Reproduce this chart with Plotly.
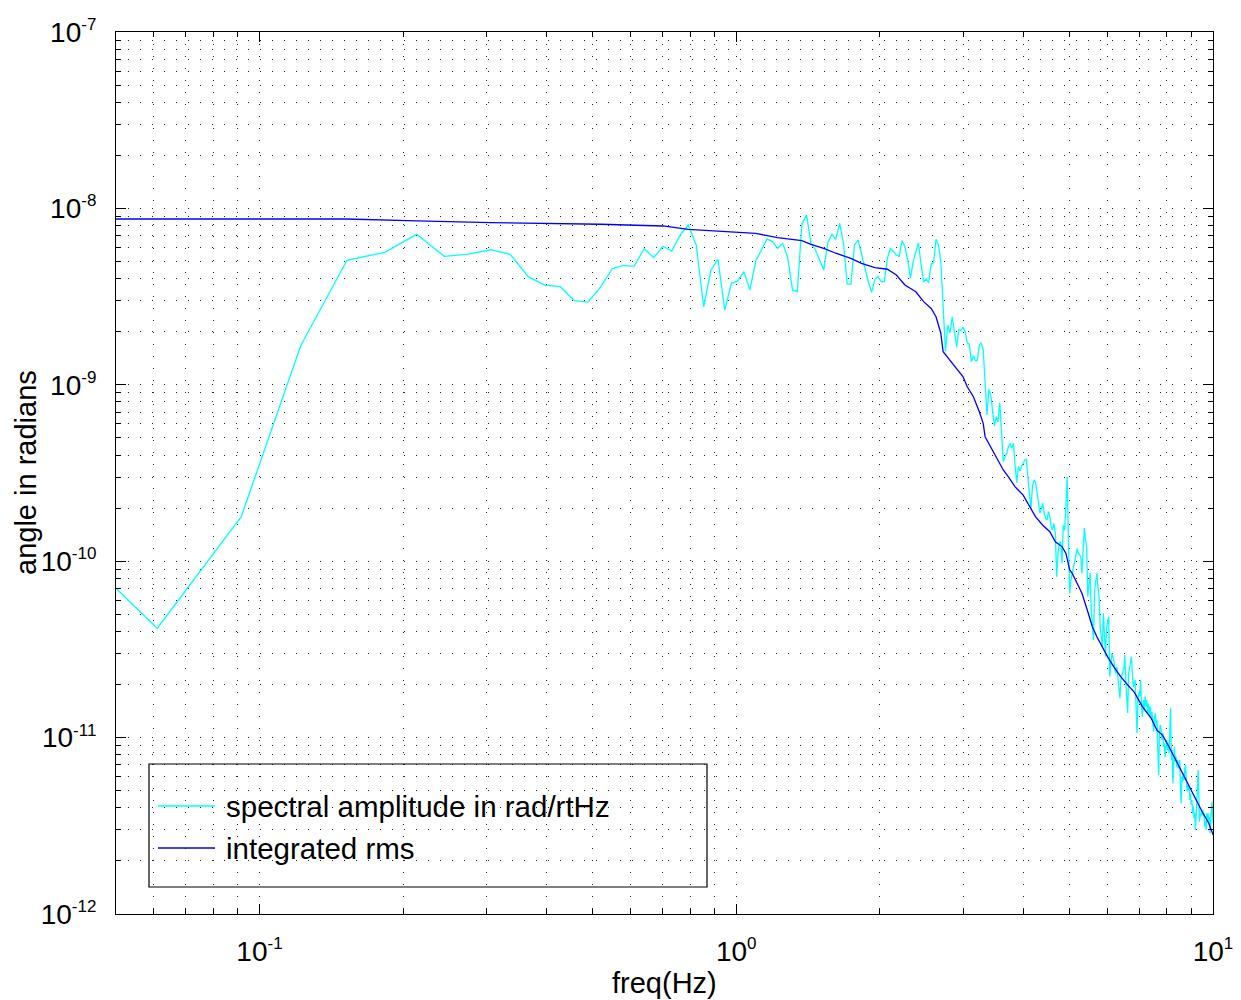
import math
import plotly.graph_objects as go

# frequency resolution of the spectrum (Hz per bin)
df = 1 / 32.768

# spectral amplitude in rad/rtHz, bins 1..328
spec_amp = [
    2.54e-10, 4.17e-11, 1.79e-10, 1.67e-9, 5.08e-9, 5.64e-9, 7.13e-9, 5.35e-9, 5.51e-9, 5.83e-9,
    5.49e-9, 4.10e-9, 3.67e-9, 3.60e-9, 3.00e-9, 2.94e-9, 3.57e-9, 4.55e-9, 4.75e-9, 4.69e-9,
    5.91e-9, 5.26e-9, 6.10e-9, 5.73e-9, 7.07e-9, 8.05e-9, 6.20e-9, 2.77e-9, 4.48e-9, 5.15e-9,
    2.65e-9, 3.76e-9, 3.88e-9, 4.38e-9, 3.45e-9, 5.03e-9, 5.81e-9, 6.71e-9, 6.48e-9, 5.94e-9,
    6.34e-9, 5.28e-9, 3.45e-9, 3.37e-9, 8.16e-9, 9.18e-9, 6.34e-9, 5.85e-9, 5.10e-9, 4.47e-9,
    6.39e-9, 7.13e-9, 6.68e-9, 8.23e-9, 6.34e-9, 3.73e-9, 3.71e-9, 6.20e-9, 6.62e-9, 5.44e-9,
    4.67e-9, 3.84e-9, 3.34e-9, 3.96e-9, 4.10e-9, 3.84e-9, 3.84e-9, 5.21e-9, 5.94e-9, 5.68e-9,
    5.44e-9, 5.37e-9, 6.56e-9, 6.07e-9, 5.10e-9, 4.01e-9, 4.99e-9, 5.68e-9, 6.39e-9, 4.78e-9,
    3.84e-9, 3.98e-9, 3.79e-9, 4.84e-9, 4.93e-9, 6.68e-9, 6.20e-9, 5.00e-9, 2.60e-9, 1.55e-9,
    2.18e-9, 1.97e-9, 2.43e-9, 1.96e-9, 1.64e-9, 2.06e-9, 2.03e-9, 2.12e-9, 2.00e-9, 1.73e-9,
    1.70e-9, 1.35e-9, 1.46e-9, 1.37e-9, 1.38e-9, 1.68e-9, 1.73e-9, 1.58e-9, 1.02e-9, 6.74e-10,
    9.43e-10, 8.75e-10, 7.20e-10, 5.84e-10, 6.60e-10, 6.18e-10, 7.92e-10, 5.08e-10, 3.67e-10, 3.91e-10,
    4.09e-10, 4.46e-10, 4.66e-10, 4.36e-10, 4.66e-10, 3.44e-10, 2.79e-10, 3.44e-10, 3.26e-10, 3.44e-10,
    3.62e-10, 3.75e-10, 3.78e-10, 3.01e-10, 2.42e-10, 1.97e-10, 2.65e-10, 2.89e-10, 2.82e-10, 2.53e-10,
    2.18e-10, 1.87e-10, 2.04e-10, 2.13e-10, 1.87e-10, 1.75e-10, 1.71e-10, 1.91e-10, 1.79e-10, 1.57e-10,
    1.50e-10, 1.64e-10, 1.44e-10, 8.17e-11, 1.11e-10, 1.26e-10, 1.29e-10, 9.72e-11, 1.60e-10, 1.50e-10,
    2.04e-10, 3.01e-10, 1.32e-10, 6.57e-11, 7.82e-11, 8.53e-11, 9.31e-11, 1.02e-10, 1.06e-10, 1.18e-10,
    1.11e-10, 1.08e-10, 1.06e-10, 8.53e-11, 1.16e-10, 1.54e-10, 1.32e-10, 1.21e-10, 6.29e-11, 7.82e-11,
    8.53e-11, 5.29e-11, 4.07e-11, 3.57e-11, 6.87e-11, 7.49e-11, 8.53e-11, 7.17e-11, 6.29e-11, 4.25e-11,
    3.73e-11, 3.28e-11, 5.06e-11, 3.90e-11, 2.88e-11, 4.25e-11, 4.64e-11, 4.85e-11, 2.22e-11, 2.75e-11,
    3.00e-11, 2.88e-11, 2.75e-11, 2.42e-11, 2.31e-11, 2.52e-11, 2.12e-11, 1.94e-11, 1.67e-11, 2.12e-11,
    2.31e-11, 2.36e-11, 2.42e-11, 2.94e-11, 2.12e-11, 1.78e-11, 1.38e-11, 2.31e-11, 2.52e-11, 2.64e-11,
    2.88e-11, 2.31e-11, 1.94e-11, 2.03e-11, 2.12e-11, 1.50e-11, 1.06e-11, 1.63e-11, 1.78e-11, 1.71e-11,
    2.12e-11, 1.50e-11, 1.31e-11, 1.63e-11, 1.43e-11, 1.71e-11, 1.50e-11, 1.63e-11, 1.37e-11, 1.56e-11,
    1.34e-11, 1.50e-11, 1.31e-11, 1.40e-11, 1.15e-11, 1.08e-11, 1.31e-11, 1.37e-11, 1.18e-11, 1.26e-11,
    8.51e-12, 6.14e-12, 1.06e-11, 1.18e-11, 1.10e-11, 9.69e-12, 1.06e-11, 8.88e-12, 9.28e-12, 7.80e-12,
    8.88e-12, 9.69e-12, 8.51e-12, 9.28e-12, 8.14e-12, 1.15e-11, 1.47e-11, 7.46e-12, 8.51e-12, 5.50e-12,
    7.80e-12, 8.88e-12, 7.30e-12, 7.80e-12, 6.84e-12, 7.46e-12, 6.69e-12, 7.14e-12, 7.46e-12, 5.27e-12,
    4.24e-12, 6.00e-12, 5.63e-12, 6.27e-12, 5.75e-12, 6.69e-12, 6.99e-12, 5.75e-12, 4.94e-12, 5.38e-12,
    5.04e-12, 5.27e-12, 4.43e-12, 4.83e-12, 4.15e-12, 4.43e-12, 3.72e-12, 4.06e-12, 3.49e-12, 3.72e-12,
    2.99e-12, 3.56e-12, 4.06e-12, 5.27e-12, 6.55e-12, 4.43e-12, 3.34e-12, 3.72e-12, 3.56e-12, 3.89e-12,
    3.64e-12, 3.89e-12, 3.56e-12, 3.72e-12, 3.13e-12, 3.34e-12, 2.99e-12, 3.72e-12, 3.41e-12, 3.72e-12,
    3.27e-12, 3.56e-12, 2.87e-12, 3.27e-12, 3.72e-12, 4.33e-12, 3.56e-12, 3.27e-12,
]
spec_freq = [df * (i + 1) for i in range(len(spec_amp))]

# integrated rms (rad), read at selected bins
rms_bin = [1, 5, 7, 10, 17, 23, 26, 32, 36, 40, 45, 47, 50, 53, 57, 60, 64, 68, 71, 74,
           78, 81, 84, 86, 88, 89, 92, 95, 98, 100, 103, 106, 108, 109, 113, 117, 119, 122, 126, 131,
           135, 139, 144, 149, 153, 158, 161, 164, 166, 170, 174, 179, 183, 187, 191, 197, 203, 210, 217, 224,
           233, 243, 250, 257, 265, 276, 287, 299, 311, 321, 328]
rms_val = [8.71e-9, 8.71e-9, 8.49e-9, 8.30e-9, 8.13e-9, 7.95e-9, 7.61e-9, 7.32e-9, 7.22e-9, 6.82e-9,
           6.56e-9, 6.26e-9, 5.94e-9, 5.57e-9, 5.21e-9, 4.88e-9, 4.61e-9, 4.52e-9, 4.19e-9, 3.68e-9,
           3.37e-9, 2.96e-9, 2.71e-9, 2.43e-9, 1.96e-9, 1.54e-9, 1.38e-9, 1.24e-9, 1.11e-9, 9.75e-10,
           8.56e-10, 7.04e-10, 6.05e-10, 5.08e-10, 4.27e-10, 3.59e-10, 3.29e-10, 3.01e-10, 2.64e-10, 2.37e-10,
           2.04e-10, 1.79e-10, 1.60e-10, 1.47e-10, 1.29e-10, 1.21e-10, 1.11e-10, 8.92e-11, 8.54e-11, 7.49e-11,
           6.58e-11, 5.17e-11, 4.25e-11, 3.73e-11, 3.35e-11, 2.87e-11, 2.52e-11, 2.21e-11, 1.99e-11, 1.81e-11,
           1.50e-11, 1.29e-11, 1.10e-11, 1.03e-11, 8.88e-12, 7.15e-12, 5.75e-12, 4.62e-12, 3.80e-12, 3.27e-12,
           2.80e-12]
rms_freq = [df * b for b in rms_bin]

# axis ticks
x_tickvals = [0.1, 1, 10]
x_exponents = ["-1", "0", "1"]
y_tickvals = [1e-12, 1e-11, 1e-10, 1e-9, 1e-8, 1e-7]
y_exponents = ["-12", "-11", "-10", "-9", "-8", "-7"]
x_minor = [m * 10 ** e for e in (-2, -1, 0) for m in range(2, 10)]
y_minor = [m * 10 ** e for e in range(-12, -7) for m in range(2, 10)]

def pow_label(e):
    return '10<sup><span style="font-size:17px">' + e + '</span></sup>'

x_ticktext = [pow_label(e) for e in x_exponents]
y_ticktext = [pow_label(e) for e in y_exponents]

legend_labels = ["spectral amplitude in rad/rtHz", "integrated rms"]
colors = ["#00FFFF", "#0000FF"]
x_title = "freq(Hz)"
y_title = "angle in radians"

FONT = "Liberation Sans, Arial, Helvetica, sans-serif"
DOT = "1px,11px"
GRIDCOL = "#222222"

fig = go.Figure()
fig.add_trace(go.Scatter(x=spec_freq, y=spec_amp, mode="lines", name=legend_labels[0],
                         line=dict(color=colors[0], width=1.3), showlegend=False))
fig.add_trace(go.Scatter(x=rms_freq, y=rms_val, mode="lines", name=legend_labels[1],
                         line=dict(color=colors[1], width=1.3), showlegend=False))

axis_common = dict(
    type="log", showline=True, linecolor="black", linewidth=1, mirror="allticks",
    ticks="inside", ticklen=10, tickcolor="black", tickwidth=1, automargin=False,
    showgrid=True, gridcolor=GRIDCOL, gridwidth=1, griddash=DOT, zeroline=False,
    tickfont=dict(family=FONT, size=28, color="black"),
)

fig.update_xaxes(
    **axis_common,
    range=[math.log10(0.05), 1],
    tickmode="array", tickvals=x_tickvals, ticktext=x_ticktext,
    ticklabelstandoff=12,
    minor=dict(tickmode="array", tickvals=x_minor, ticks="inside", ticklen=5,
               tickcolor="black", showgrid=True, gridcolor=GRIDCOL, gridwidth=1, griddash=DOT),
)
fig.update_yaxes(
    **axis_common,
    range=[-12, -7],
    tickmode="array", tickvals=y_tickvals, ticktext=y_ticktext,
    ticklabelstandoff=13,
    minor=dict(tickmode="array", tickvals=y_minor, ticks="inside", ticklen=5,
               tickcolor="black", showgrid=True, gridcolor=GRIDCOL, gridwidth=1, griddash=DOT),
)

# page body adds an 8px offset; plot area spans x 116..1213, y 32..914 on the page
OFF = 8
W_PLOT, H_PLOT = 1097.0, 882.0
def px(xp):
    return (xp - 116) / W_PLOT
def py(yp):
    return (914 - yp) / H_PLOT

shapes = [dict(type="rect", xref="paper", yref="paper", x0=px(149), x1=px(707), y0=py(887), y1=py(764),
               line=dict(color="black", width=1.2), fillcolor="rgba(0,0,0,0)")]
annotations = [
    dict(text=x_title, xref="paper", yref="paper", x=px(664.5), y=py(983), xanchor="center",
         yanchor="middle", showarrow=False, font=dict(family=FONT, size=29, color="black")),
    dict(text=y_title, xref="paper", yref="paper", x=px(26), y=py(473), xanchor="center",
         yanchor="middle", textangle=-90, showarrow=False, borderpad=0,
         font=dict(family=FONT, size=29, color="black")),
]
for i, (lab, col) in enumerate(zip(legend_labels, colors)):
    yy = py(806 + 42 * i)
    shapes.append(dict(type="line", xref="paper", yref="paper", x0=px(158), x1=px(215), y0=yy, y1=yy,
                       line=dict(color=col, width=1.3)))
    annotations.append(dict(text=lab, xref="paper", yref="paper", x=px(224), y=yy, xanchor="left",
                            yanchor="middle", showarrow=False,
                            font=dict(family=FONT, size=29.5, color="black")))

fig.update_layout(
    width=1241 - OFF, height=1000 - OFF,
    margin=dict(l=116 - OFF, r=28, t=32 - OFF, b=86),
    paper_bgcolor="white", plot_bgcolor="white",
    shapes=shapes, annotations=annotations,
    showlegend=False,
)

fig.write_html("out.html")
